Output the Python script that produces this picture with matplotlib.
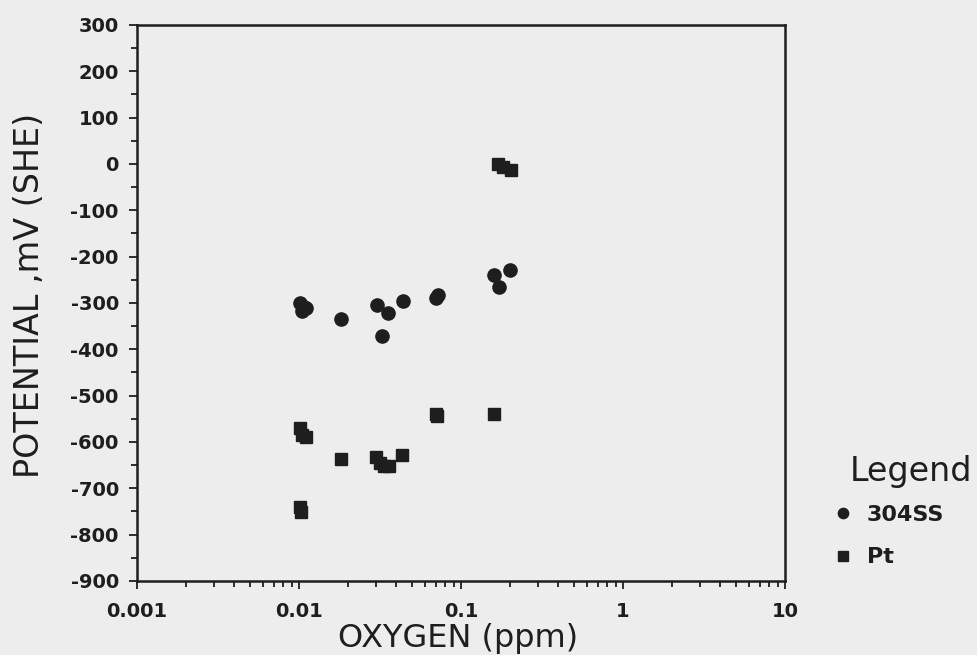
import matplotlib
matplotlib.use("Agg")
import matplotlib.pyplot as plt
from matplotlib.ticker import LogLocator, FixedLocator, MultipleLocator, NullFormatter

plt.rcParams["font.family"] = ["DejaVu Sans"]
plt.rcParams["axes.unicode_minus"] = False

# 304 stainless steel electrode
ss_oxygen = [0.0101, 0.0104, 0.0107, 0.0110, 0.0183, 0.0304, 0.0327, 0.0356,
             0.0440, 0.0700, 0.0720, 0.160, 0.171, 0.200]
ss_potential = [-300, -318, -308, -312, -335, -304, -371, -321,
                -296, -290, -283, -240, -266, -228]

# platinum electrode
pt_oxygen = [0.0101, 0.0104, 0.0110, 0.0101, 0.0103, 0.0183, 0.0300, 0.0315,
             0.0335, 0.0360, 0.0435, 0.0700, 0.0715, 0.160, 0.169, 0.183, 0.203]
pt_potential = [-570, -585, -590, -740, -752, -636, -632, -645,
                -652, -652, -628, -540, -545, -540, 0, -6, -13]

x_ticks = [0.001, 0.01, 0.1, 1, 10]
x_ticklabels = ["0.001", "0.01", "0.1", "1", "10"]

ink = "#1e1e1e"
bg = "#ededed"
fig = plt.figure(figsize=(9.78, 6.55), dpi=100, facecolor=bg)
ax = fig.add_axes([0.140, 0.113, 0.6626, 0.849], facecolor=bg)

ax.plot(ss_oxygen, ss_potential, "o", color=ink, ms=9.5, mec=ink, label="304SS")
ax.plot(pt_oxygen, pt_potential, "s", color=ink, ms=8.5, mec=ink, label="Pt")

ax.set_xscale("log")
ax.set_xlim(0.001, 10)
ax.set_ylim(-900, 300)
ax.xaxis.set_major_locator(FixedLocator(x_ticks))
ax.set_xticklabels(x_ticklabels)
ax.xaxis.set_minor_locator(LogLocator(base=10, subs=range(2, 10)))
ax.xaxis.set_minor_formatter(NullFormatter())
ax.yaxis.set_major_locator(MultipleLocator(100))
ax.yaxis.set_minor_locator(MultipleLocator(50))

ax.tick_params(which="both", direction="out", color=ink, width=1.3,
               top=False, right=False)
ax.tick_params(which="major", length=6, labelsize=14)
ax.tick_params(axis="y", which="major", pad=7)
ax.tick_params(axis="x", which="major", pad=9)
ax.tick_params(which="minor", length=4)
for lbl in ax.get_xticklabels() + ax.get_yticklabels():
    lbl.set_fontweight("bold")
    lbl.set_color(ink)
for sp in ax.spines.values():
    sp.set_linewidth(1.8)
    sp.set_color(ink)

ax.set_xlabel("OXYGEN (ppm)", fontsize=23, color=ink)
ax.set_ylabel("POTENTIAL ,mV (SHE)", fontsize=24, color=ink)
ax.xaxis.set_label_coords(0.495, -0.0755)
ax.yaxis.set_label_coords(-0.141, 0.514)

# legend: title placed as its own text, entries from the plotted series
fig.text(850 / 978, 1 - 455 / 655, "Legend", fontsize=24, color=ink,
         ha="left", va="top")
leg = ax.legend(loc="upper left", bbox_to_anchor=(821 / 978, 1 - 494 / 655),
                bbox_transform=fig.transFigure, frameon=False, borderpad=0,
                fontsize=16, markerscale=0.78, handlelength=0.95,
                handletextpad=0.6, labelspacing=1.0)
for t in leg.get_texts():
    t.set_fontweight("bold")
    t.set_color(ink)

fig.savefig("out.png", dpi=100, facecolor=bg)
